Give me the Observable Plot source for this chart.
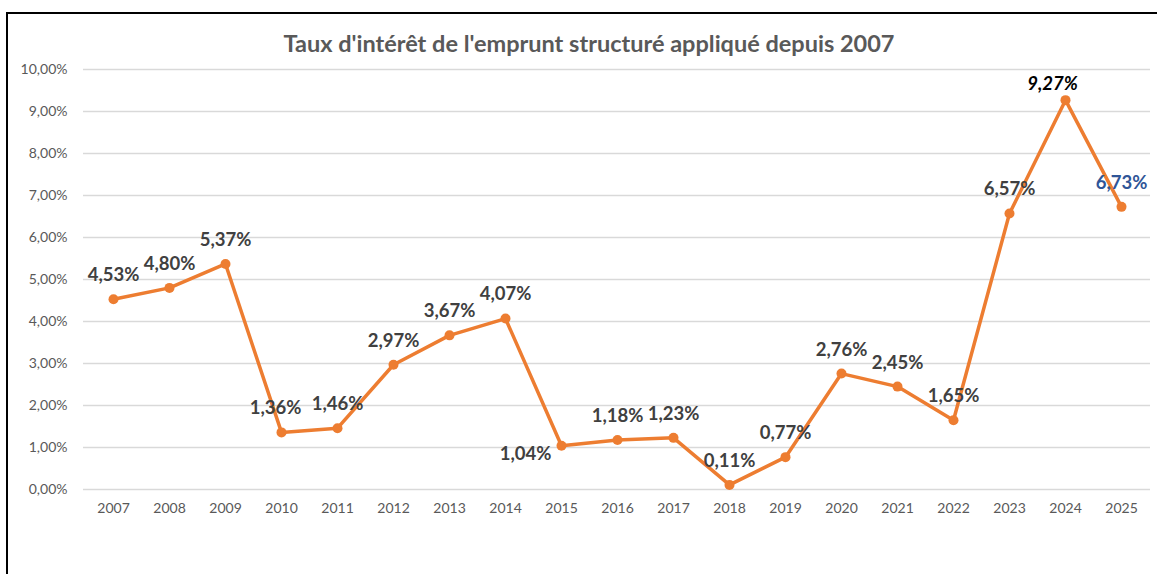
<!DOCTYPE html>
<html>
<head>
<meta charset="utf-8">
<script src="https://cdn.jsdelivr.net/npm/d3@7"></script>
<script src="https://cdn.jsdelivr.net/npm/@observablehq/plot@0.6"></script>
<style>
  html, body { margin: 0; padding: 0; background: #fff; }
  #wrap { position: relative; width: 1157px; height: 574px; overflow: hidden; background: #fff; }
  #frame { position: absolute; left: 6px; top: 12px; width: 1160px; height: 600px; border-top: 2px solid #000; border-left: 2px solid #000; box-sizing: border-box; }
  #title { position: absolute; left: 0; top: 28px; width: 1178px; text-align: center; font-family: Lato, "Open Sans", sans-serif; font-weight: bold; font-size: 23.5px; color: #595959; line-height: 30px; }
  #chart { position: absolute; left: 0; top: 56px; }
</style>
</head>
<body>
<div id="wrap">
  <div id="frame"></div>
  <div id="title">Taux d'intérêt de l'emprunt structuré appliqué depuis 2007</div>
  <div id="chart"></div>
</div>
<script>
const years = ["2007","2008","2009","2010","2011","2012","2013","2014","2015","2016","2017","2018","2019","2020","2021","2022","2023","2024","2025"];
const rates = [4.53, 4.80, 5.37, 1.36, 1.46, 2.97, 3.67, 4.07, 1.04, 1.18, 1.23, 0.11, 0.77, 2.76, 2.45, 1.65, 6.57, 9.27, 6.73];
const yTicks = [0,1,2,3,4,5,6,7,8,9,10];

const data = years.map((y, i) => ({year: y, rate: rates[i]}));
const fmt = v => v.toFixed(2).replace(".", ",") + "%";

const normal = data.filter(d => !["2010","2015","2024","2025"].includes(d.year));
const font = 'Lato, "Open Sans", sans-serif';
const lbl = {fontSize: 18.5, fontWeight: "bold"};

const plot = Plot.plot({
  width: 1157,
  height: 518,
  marginTop: 13,
  marginBottom: 85,
  marginLeft: 83,
  marginRight: 7,
  style: {fontFamily: font, background: "transparent", overflow: "visible"},
  x: {type: "point", domain: years, padding: 0.5, label: null},
  y: {domain: [0, 10], label: null},
  marks: [
    Plot.gridY(yTicks, {stroke: "#d9d9d9", strokeOpacity: 1, strokeWidth: 1.5}),
    Plot.axisY(yTicks, {tickSize: 0, tickPadding: 16, tickFormat: fmt, fontSize: 14, fill: "#595959", label: null}),
    Plot.axisX({tickSize: 0, tickPadding: 14, fontSize: 14, fill: "#595959", label: null}),
    Plot.line(data, {x: "year", y: "rate", stroke: "#ED7D31", strokeWidth: 3.5}),
    Plot.dot(data, {x: "year", y: "rate", r: 5, fill: "#ED7D31", stroke: "none"}),
    Plot.text(normal, {x: "year", y: "rate", text: d => fmt(d.rate), dy: -24, ...lbl, fill: "#404040"}),
    Plot.text(data.filter(d => d.year === "2010"), {x: "year", y: "rate", text: d => fmt(d.rate), dx: -6, dy: -24, ...lbl, fill: "#404040"}),
    Plot.text(data.filter(d => d.year === "2015"), {x: "year", y: "rate", text: d => fmt(d.rate), dx: -10, dy: 8, textAnchor: "end", ...lbl, fill: "#404040"}),
    Plot.text(data.filter(d => d.year === "2024"), {x: "year", y: "rate", text: d => fmt(d.rate), dx: -13, dy: -16, ...lbl, fontStyle: "italic", fill: "#000000"}),
    Plot.text(data.filter(d => d.year === "2025"), {x: "year", y: "rate", text: d => fmt(d.rate), dy: -24, ...lbl, fill: "#2F5597"})
  ]
});
document.getElementById("chart").appendChild(plot);
</script>
</body>
</html>
